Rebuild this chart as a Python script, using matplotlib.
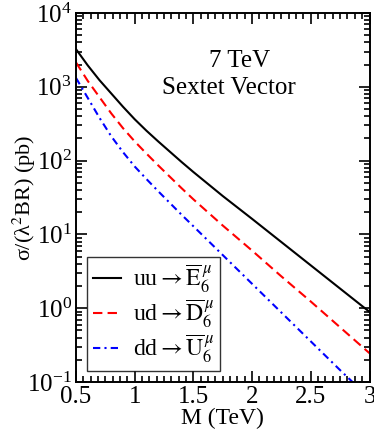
import matplotlib
matplotlib.use("Agg")
import matplotlib.pyplot as plt
from matplotlib.ticker import MultipleLocator, LogLocator, FuncFormatter, NullFormatter
import numpy as np

plt.rcParams['font.family'] = ['Liberation Serif', 'DejaVu Serif']
plt.rcParams['mathtext.fontset'] = 'stix'

# Data; log10 of sigma in pb
mass = [0.5, 0.6, 0.7, 0.8, 0.9, 1.0, 1.1, 1.2, 1.3, 1.4, 1.5, 1.75, 2.0, 2.25, 2.5, 2.75, 3.0]
log_uu_E = [3.51, 3.29, 3.09, 2.91, 2.73, 2.56, 2.405, 2.26, 2.12, 1.98, 1.845, 1.52, 1.21, 0.895, 0.58, 0.265, -0.05]
log_ud_D = [3.33, 3.08, 2.86, 2.64, 2.44, 2.26, 2.095, 1.935, 1.78, 1.625, 1.475, 1.12, 0.78, 0.43, 0.09, -0.26, -0.61]
log_dd_U = [3.12, 2.85, 2.58, 2.33, 2.115, 1.92, 1.75, 1.585, 1.425, 1.265, 1.11, 0.72, 0.33, -0.06, -0.45, -0.84, -1.22]

labels = [r'uu$\rightarrow\overline{\mathrm{E}}_6^{\,\mu}$',
          r'ud$\rightarrow\overline{\mathrm{D}}_6^{\,\mu}$',
          r'dd$\rightarrow\overline{\mathrm{U}}_6^{\,\mu}$']
colors = ['black', 'red', 'blue']
styles = ['-', (0, (4.5, 2.5)), (0, (3.5, 2, 1, 2))]

fig = plt.figure(figsize=(3.74, 4.33), dpi=100)
ax = fig.add_axes([0.2032, 0.1178, 0.7848, 0.8522])

for ys, c, ls, lab in zip([log_uu_E, log_ud_D, log_dd_U], colors, styles, labels):
    ax.plot(mass, 10 ** np.array(ys), color=c, linestyle=ls, lw=1.5, label=lab)

ax.set_yscale('log')
ax.set_xlim(0.5, 3.0)
ax.set_ylim(1e-1, 1e4)

ax.xaxis.set_major_locator(MultipleLocator(0.5))
ax.xaxis.set_minor_locator(MultipleLocator(0.0625))
ax.xaxis.set_major_formatter(FuncFormatter(lambda v, p: '%g' % v))
ax.yaxis.set_major_locator(LogLocator(base=10, numticks=10))
ax.yaxis.set_minor_locator(LogLocator(base=10, subs=np.arange(2, 10), numticks=20))
ax.yaxis.set_minor_formatter(NullFormatter())

ax.tick_params(which='both', direction='in', top=True, right=True, width=1.2)
ax.tick_params(which='major', length=8, labelsize=18, pad=3)
ax.tick_params(which='minor', length=4)
for s in ax.spines.values():
    s.set_linewidth(1.4)

ax.set_xlabel('M (TeV)', fontsize=17, labelpad=0)
ax.set_ylabel(r'σ/(λ$^2$BR) (pb)', fontsize=16)
ax.yaxis.set_label_coords(-0.128, 0.5)

fig.text(240 / 374, 1 - 61 / 433, '7 TeV', fontsize=18, ha='center', va='center')
fig.text(229 / 374, 1 - 88 / 433, 'Sextet Vector', fontsize=18, ha='center', va='center')

leg = ax.legend(loc='lower left', bbox_to_anchor=((86.7 - 76) / 293.5, (382 - 370.7) / 369),
                fontsize=17, frameon=True, fancybox=False, edgecolor='black',
                handlelength=1.2, handletextpad=0.5, borderpad=0.25, labelspacing=0.1,
                borderaxespad=0)
leg.get_frame().set_linewidth(1.0)

fig.savefig('out.png', dpi=100)
